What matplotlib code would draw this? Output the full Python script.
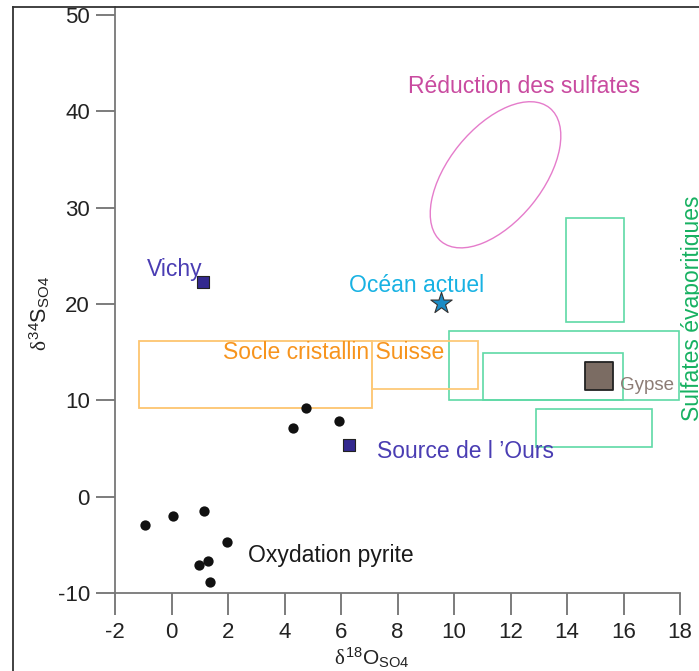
import matplotlib
matplotlib.use("Agg")
import matplotlib.pyplot as plt
from matplotlib.patches import Rectangle, Ellipse
from matplotlib.lines import Line2D
from matplotlib.transforms import ScaledTranslation

plt.rcParams['font.family'] = ['Liberation Sans', 'DejaVu Sans']
plt.rcParams['axes.unicode_minus'] = False
plt.rcParams['mathtext.fontset'] = 'custom'
plt.rcParams['mathtext.rm'] = 'Liberation Sans'
plt.rcParams['mathtext.sf'] = 'Liberation Serif'
plt.rcParams['mathtext.it'] = 'Liberation Serif'

# ---- data ----
pyrite_x = [-0.94, 0.05, 1.15, 1.96, 0.96, 1.29, 1.38, 4.31, 4.76, 5.93]
pyrite_y = [-2.9, -1.95, -1.49, -4.71, -7.1, -6.68, -8.8, 7.12, 9.25, 7.9]

sources_x = [1.13, 6.28]          # Vichy, Source de l'Ours
sources_y = [22.3, 5.38]

ocean_x = [9.54]
ocean_y = [20.1]

gypse_x = [15.12]
gypse_y = [12.54]

# boxes: (x0, x1, y0, y1)
socle_boxes = [(-1.14, 7.11, 9.25, 16.2), (7.11, 10.84, 11.22, 16.2)]
socle_colors = ['#FDC56F', '#FDC978']
evap_boxes = [(13.95, 16.03, 18.1, 28.96), (9.83, 17.97, 10.02, 17.24),
              (11.02, 15.97, 10.02, 14.96), (12.9, 17.0, 5.15, 9.09)]

reduction_center = (11.47, 33.4)

xticks = [-2, 0, 2, 4, 6, 8, 10, 12, 14, 16, 18]
yticks = [-10, 0, 10, 20, 30, 40, 50]

fig = plt.figure(figsize=(6.99, 6.71), dpi=100)
ax = fig.add_axes([115/699, (671-593.3)/671, 565/699, 586.3/671])
ax.set_xlim(-2, 18)
ax.set_ylim(-10, 50.8)

for s in ['top', 'right']:
    ax.spines[s].set_visible(False)
for s in ['left', 'bottom']:
    ax.spines[s].set_color('#777777')
    ax.spines[s].set_linewidth(1.3)

ax.set_xticks(xticks)
ax.set_xticklabels([str(v) for v in xticks])
ax.set_yticks(yticks)
ax.set_yticklabels([str(v) for v in yticks])
ax.tick_params(axis='x', direction='out', length=16, width=1.2, color='#666666',
               labelsize=16, pad=5, labelcolor='#222222')
ax.tick_params(axis='y', direction='out', length=14, width=1.2, color='#666666',
               labelsize=16, pad=4, labelcolor='#222222')

# evaporitic boxes
for (x0, x1, y0, y1) in evap_boxes:
    ax.add_patch(Rectangle((x0, y0), x1 - x0, y1 - y0, fill=False,
                           edgecolor='#5FD9A6', linewidth=1.2, zorder=2))
# socle boxes
for (x0, x1, y0, y1), c in zip(socle_boxes, socle_colors):
    ax.add_patch(Rectangle((x0, y0), x1 - x0, y1 - y0, fill=False,
                           edgecolor=c, linewidth=1.3, zorder=2))

# reduction ellipse (pixel-sized, centred in data coords)
ell = Ellipse((0, 0), width=1.72, height=0.94, angle=51, fill=False,
              edgecolor='#E57CCB', linewidth=1.0,
              transform=fig.dpi_scale_trans + ScaledTranslation(
                  reduction_center[0], reduction_center[1], ax.transData))
ax.add_patch(ell)

# points
ax.scatter(pyrite_x, pyrite_y, s=55, c='#111111', marker='o', zorder=4,
           linewidths=0)
ax.scatter(sources_x, sources_y, s=75, c='#33298F', marker='s',
           edgecolors='#222222', linewidths=0.8, zorder=4)
ax.scatter(ocean_x, ocean_y, s=260, c='#1A8CC6', marker='*',
           edgecolors='#333333', linewidths=0.8, zorder=4)
ax.scatter(gypse_x, gypse_y, s=430, c='#7B6C63', marker='s',
           edgecolors='#222222', linewidths=1.3, zorder=4)

# labels
fs = 16.5
ax.text(8.37, 41.93, 'Réduction des sulfates', color='#C94BA0', fontsize=fs,
        ha='left', va='baseline')
ax.text(-0.88, 22.92, 'Vichy', color='#4A3DB3', fontsize=fs,
        ha='left', va='baseline')
ax.text(6.3, 21.29, 'Océan actuel', color='#18B2E3', fontsize=fs,
        ha='left', va='baseline')
ax.text(1.83, 14.27, 'Socle cristallin Suisse', color='#F7941D', fontsize=fs,
        ha='left', va='baseline', zorder=3)
ax.text(7.26, 4.0, 'Source de l \u2019Ours', color='#4A3DB3', fontsize=fs,
        ha='left', va='baseline')
ax.text(2.72, -6.78, 'Oxydation pyrite', color='#1a1a1a', fontsize=fs,
        ha='left', va='baseline')
ax.text(15.88, 11.09, 'Gypse', color='#8C7C75', fontsize=13.5,
        ha='left', va='baseline')
ax.text(18.46, 7.9, 'Sulfates évaporitiques', color='#17B161', fontsize=fs,
        rotation=90, ha='center', va='bottom', clip_on=False)

# axis labels
ax.set_ylabel(r'$\delta^{34}\mathrm{S}_{\mathrm{SO4}}$', fontsize=15.5,
              color='#222222', va='center', ha='center')
ax.yaxis.set_label_coords(-0.133, 0.478)
ax.set_xlabel(r'$\delta^{18}\mathrm{O}_{\mathrm{SO4}}$', fontsize=15,
              color='#222222', va='center', ha='center')
ax.xaxis.set_label_coords(0.455, -0.11)

# outer frame
fig.add_artist(Line2D([13/699, 13/699], [0, 1 - 7/671], transform=fig.transFigure,
                      color='#333333', linewidth=1.3))
fig.add_artist(Line2D([13/699, 1], [1 - 7/671, 1 - 7/671], transform=fig.transFigure,
                      color='#333333', linewidth=1.3))

fig.savefig('out.png', dpi=100)
